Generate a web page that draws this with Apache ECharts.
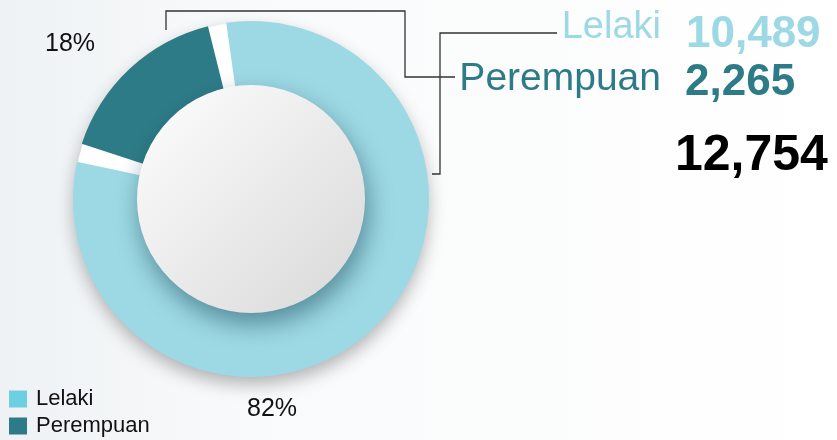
<!DOCTYPE html>
<html>
<head>
    <meta charset="UTF-8">
    <script src="https://cdn.jsdelivr.net/npm/echarts@6/dist/echarts.min.js"></script>
    <style>
        html, body { margin: 0; padding: 0; background: #fff; }
        #main { width: 837px; height: 440px; }
    </style>
</head>
<body>
<div id="main"></div>
<script>
    // data
    var names = ['Lelaki', 'Perempuan'];
    var values = [10489, 2265];

    // styles
    var ringColors = ['#9dd9e4', '#2e7b88'];
    var legendColors = ['#6dcfe1', '#2e7b88'];
    var labelPos = [[272, 409], [70, 44]];   // where the % labels sit
    var font = '"Liberation Sans", Arial, Helvetica, sans-serif';

    var total = values.reduce(function (a, b) { return a + b; }, 0);
    var fmt = echarts.format.addCommas;

    var pieData = names.map(function (n, i) {
        return { name: n, value: values[i], itemStyle: { color: ringColors[i] } };
    });
    var legendData = names.map(function (n, i) {
        return { name: n, itemStyle: { color: legendColors[i], borderWidth: 0 } };
    });

    var myChart = echarts.init(document.getElementById('main'));
    var option = {
        animation: false,
        backgroundColor: new echarts.graphic.LinearGradient(0, 0, 1, 0, [
            { offset: 0, color: '#eef2f4' },
            { offset: 0.3, color: '#f9fafb' },
            { offset: 1, color: '#ffffff' }
        ]),
        legend: {
            data: legendData,
            orient: 'vertical',
            left: 9,
            top: 387,
            height: 60,
            padding: 0,
            icon: 'rect',
            itemWidth: 18,
            itemHeight: 17,
            itemGap: 3,
            textStyle: { fontSize: 22, lineHeight: 24, color: '#111', fontFamily: font, padding: [0, 0, 0, 4] }
        },
        series: [
            {
                // white plate behind the ring: white gaps and the drop shadow
                name: 'plate',
                type: 'pie',
                center: [251, 199],
                radius: [0, 177],
                silent: true,
                z: 1,
                label: { show: false },
                labelLine: { show: false },
                data: [{
                    name: 'plate',
                    value: 1,
                    itemStyle: {
                        color: '#ffffff',
                        shadowBlur: 18,
                        shadowColor: 'rgba(0,0,0,0.3)',
                        shadowOffsetX: 0,
                        shadowOffsetY: 8
                    }
                }]
            },
            {
                name: 'ring',
                type: 'pie',
                center: [251, 199],
                radius: [100, 178],
                startAngle: 101,
                clockwise: true,
                padAngle: 6,
                z: 2,
                data: pieData,
                label: {
                    show: true,
                    position: 'outside',
                    fontSize: 25,
                    color: '#111',
                    fontFamily: font,
                    formatter: function (p) { return Math.round(p.percent) + '%'; }
                },
                labelLine: { show: false },
                labelLayout: function (p) {
                    var pos = labelPos[p.dataIndex];
                    return { x: pos[0], y: pos[1], align: 'center', verticalAlign: 'middle' };
                },
                emphasis: { disabled: true }
            },
            {
                name: 'disc',
                type: 'pie',
                center: [251, 199],
                radius: [0, 114],
                silent: true,
                z: 3,
                label: { show: false },
                labelLine: { show: false },
                data: [{
                    name: 'disc',
                    value: 1,
                    itemStyle: {
                        color: new echarts.graphic.LinearGradient(0, 0, 1, 1, [
                            { offset: 0, color: '#fefefe' },
                            { offset: 1, color: '#d8d8d8' }
                        ]),
                        shadowBlur: 26,
                        shadowColor: 'rgba(10,60,75,0.5)',
                        shadowOffsetX: 3,
                        shadowOffsetY: 11
                    }
                }]
            }
        ],
        graphic: [
            // leader lines
            {
                type: 'polyline',
                shape: { points: [[166, 30], [166, 11], [405, 11], [405, 77], [455, 77]] },
                style: { stroke: '#333', lineWidth: 1.3, fill: null }
            },
            {
                type: 'polyline',
                shape: { points: [[432, 174], [440, 174], [440, 33], [557, 33]] },
                style: { stroke: '#333', lineWidth: 1.3, fill: null }
            },
            // right side figures
            {
                type: 'text', x: 661, y: 28,
                style: { text: names[0], font: '38px ' + font, fill: ringColors[0], align: 'right', verticalAlign: 'middle' }
            },
            {
                type: 'text', x: 686, y: 35,
                style: { text: fmt(values[0]), font: 'bold 44px ' + font, fill: ringColors[0], align: 'left', verticalAlign: 'middle' }
            },
            {
                type: 'text', x: 661, y: 79,
                style: { text: names[1], font: '39px ' + font, fill: ringColors[1], align: 'right', verticalAlign: 'middle' }
            },
            {
                type: 'text', x: 685, y: 83,
                style: { text: fmt(values[1]), font: 'bold 44px ' + font, fill: ringColors[1], align: 'left', verticalAlign: 'middle' }
            },
            {
                type: 'text', x: 675, y: 156,
                style: { text: fmt(total), font: 'bold 50px ' + font, fill: '#000', align: 'left', verticalAlign: 'middle' }
            }
        ]
    };
    myChart.setOption(option);
</script>
</body>
</html>
